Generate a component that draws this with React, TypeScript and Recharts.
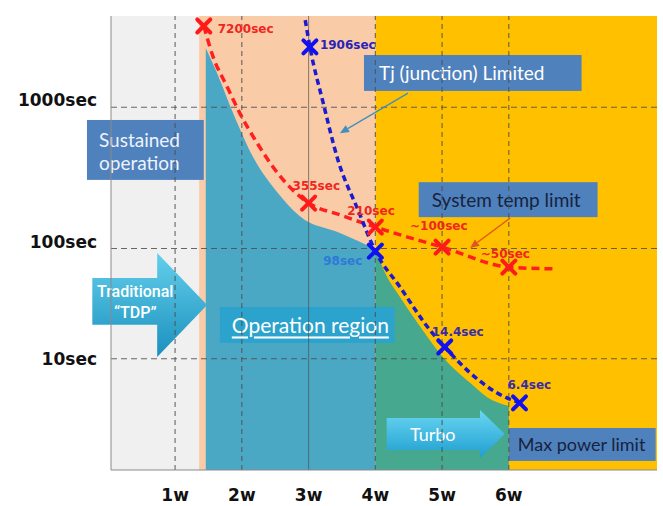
import {
  ComposedChart,
  Area,
  Line,
  Scatter,
  XAxis,
  YAxis,
  ReferenceArea,
  ReferenceLine,
} from "recharts";

// x = package power (w). y = schematic height of the time limit: the original
// diagram is not drawn to a true log scale, so levels run 0 (bottom) .. 100 (top).
const X_TICKS = [1, 2, 3, 4, 5, 6];
const X_TICK_LABELS = ["1w", "2w", "3w", "4w", "5w", "6w"];
const Y_TICKS = [24.5, 48.8, 79.9];
const Y_TICK_LABELS = ["10sec", "100sec", "1000sec"];

// zones: sustained (gray), junction limited (peach), turbo (gold)
const ZONE_EDGES = [0.04, 1.36, 4.0, 8.22];

// operation region top edge, left part and turbo part
const TEAL_W = [1.46, 1.63, 1.87, 2.17, 2.53, 2.87, 3.47, 4.0];
const TEAL_LVL = [92.9, 87.4, 78.6, 68.9, 61.2, 55.9, 52.2, 48.7];
const TURBO_W = [4.0, 4.14, 4.37, 4.71, 5.01, 5.42, 5.67, 6.0];
const TURBO_LVL = [48.7, 43.6, 38.1, 30.8, 24.9, 19.2, 16.1, 14.1];

// system temp limit curve (red) and Tj limit curve (blue)
const RED_W = [1.43, 1.57, 1.78, 1.97, 2.23, 2.47, 2.72, 3.0, 3.47, 4.0, 5.0, 6.0, 6.66];
const RED_LVL = [97.8, 91.0, 84.4, 78.6, 72.0, 66.7, 62.3, 58.8, 56.2, 53.5, 49.1, 44.7, 44.3];
const BLUE_W = [2.95, 3.02, 3.22, 3.44, 3.74, 4.0, 4.37, 4.82, 5.04, 5.42, 5.82, 6.16];
const BLUE_LVL = [99.1, 93.2, 80.8, 68.3, 57.3, 48.2, 40.3, 30.8, 27.1, 21.4, 17.0, 14.8];

const RED_MARK_W = [1.43, 3.0, 4.0, 5.0, 6.0];
const RED_MARK_LVL = [97.8, 58.8, 53.5, 49.1, 44.7];
const RED_MARK_LABELS = ["7200sec", "355sec", "210sec", "~100sec", "~50sec"];
const BLUE_MARK_W = [3.02, 4.0, 5.04, 6.16];
const BLUE_MARK_LVL = [93.2, 48.2, 27.1, 14.8];
const BLUE_MARK_LABELS = ["1906sec", "98sec", "14.4sec", "6.4sec"];

// ---- styles ----
const ZONE_COLORS = ["#f0f0f0", "#f9cba7", "#ffc000"];
const Y_TICK_SHIFT = [0, -6, -7];
const RED_LABEL_POS = [
  { dx: 14, dy: 3, anchor: "start" },
  { dx: -16, dy: -17, anchor: "start" },
  { dx: -28, dy: -16, anchor: "start" },
  { dx: -32, dy: -21, anchor: "start" },
  { dx: -28, dy: -13, anchor: "start" },
];
const BLUE_LABEL_POS = [
  { dx: 10, dy: -2, anchor: "start", color: "#2b22b8" },
  { dx: -13, dy: 10, anchor: "end", color: "#2f78d8" },
  { dx: -13, dy: -15, anchor: "start", color: "#3a2ca8" },
  { dx: -12, dy: -18, anchor: "start", color: "#3a2ca8" },
];

const BOXES = [
  { text: ["Sustained", "operation"], x1: -0.32, x2: 1.43, y1: 63.9, y2: 77.1, fill: "#4f81bd", color: "#eef3fa", size: 19, pad: 12 },
  { text: ["Tj (junction) Limited"], x1: 3.83, x2: 7.09, y1: 83.5, y2: 91.4, fill: "#4f81bd", color: "#ffffff", size: 19, pad: 15 },
  { text: ["System temp limit"], x1: 4.65, x2: 7.33, y1: 55.7, y2: 63.4, fill: "#4f81bd", color: "#17233f", size: 19, pad: 13 },
  { text: ["Operation region"], x1: 1.67, x2: 4.29, y1: 28.0, y2: 35.9, fill: "#2ba3cd", color: "#ffffff", size: 21, pad: 12, underline: true },
  { text: ["Max power limit"], x1: 6.0, x2: 8.2, y1: 2.0, y2: 9.25, fill: "#4f81bd", color: "#17233f", size: 18, pad: 9 },
];

const FONT_BOX = "Lato, 'Open Sans', sans-serif";
const FONT_BOLD = "'DejaVu Sans', Verdana, sans-serif";

const areaRows = (() => {
  const rows = new Map<number, Record<string, number>>();
  TEAL_W.forEach((w, i) => rows.set(w, { ...(rows.get(w) ?? { w }), teal: TEAL_LVL[i] }));
  TURBO_W.forEach((w, i) => rows.set(w, { ...(rows.get(w) ?? { w }), turbo: TURBO_LVL[i] }));
  return [...rows.values()].sort((a, b) => a.w - b.w);
})();

const redLine = RED_W.map((w, i) => ({ w, lvl: RED_LVL[i] }));
const blueLine = BLUE_W.map((w, i) => ({ w, lvl: BLUE_LVL[i] }));
const redMarks = RED_MARK_W.map((w, i) => ({ w, lvl: RED_MARK_LVL[i], label: RED_MARK_LABELS[i], i }));
const blueMarks = BLUE_MARK_W.map((w, i) => ({ w, lvl: BLUE_MARK_LVL[i], label: BLUE_MARK_LABELS[i], i }));

function makeMark(color: string, pos: any[], labelColor?: string) {
  return (props: any) => {
    const { cx, cy, payload } = props;
    const p = pos[payload.i];
    const s = 6.5;
    return (
      <g>
        <line x1={cx - s} y1={cy - s} x2={cx + s} y2={cy + s} stroke={color} strokeWidth={4} strokeLinecap="round" />
        <line x1={cx - s} y1={cy + s} x2={cx + s} y2={cy - s} stroke={color} strokeWidth={4} strokeLinecap="round" />
        <text
          x={cx + p.dx}
          y={cy + p.dy}
          textAnchor={p.anchor}
          dominantBaseline="central"
          fontFamily={FONT_BOLD}
          fontWeight="bold"
          fontSize={12}
          fill={p.color ?? labelColor}
        >
          {payload.label}
        </text>
      </g>
    );
  };
}

function boxShape(b: (typeof BOXES)[number]) {
  return (props: any) => {
    const { x, y, width, height } = props;
    const n = b.text.length;
    return (
      <g>
        <rect x={x} y={y} width={width} height={height} fill={b.fill} />
        {b.text.map((t, i) => (
          <text
            key={t}
            x={x + b.pad}
            y={n === 1 ? y + height / 2 : y + 20 + i * 23}
            dominantBaseline="central"
            fontFamily={FONT_BOX}
            fontSize={b.size}
            fill={b.color}
            textDecoration={b.underline ? "underline" : undefined}
          >
            {t}
          </text>
        ))}
      </g>
    );
  };
}

// block arrow drawn inside its reference box
function blockArrow(shaftTop: number, shaftBot: number, headAt: number, grad: string, lines: string[], textX: number, textY: number[], font: any) {
  return (props: any) => {
    const { x, y, width: w, height: h } = props;
    const hx = x + w * headAt;
    const pts = [
      [x, y + h * shaftTop],
      [hx, y + h * shaftTop],
      [hx, y],
      [x + w, y + h * 0.5],
      [hx, y + h],
      [hx, y + h * shaftBot],
      [x, y + h * shaftBot],
    ]
      .map((p) => p.join(","))
      .join(" ");
    return (
      <g>
        <polygon points={pts} fill={`url(#${grad})`} />
        {lines.map((t, i) => (
          <text
            key={t}
            x={x + w * textX}
            y={y + h * textY[i]}
            textAnchor="middle"
            dominantBaseline="central"
            fill="#ffffff"
            {...font}
          >
            {t}
          </text>
        ))}
      </g>
    );
  };
}

function callout(color: string) {
  return (props: any) => {
    const { x1, y1, x2, y2 } = props;
    const a = Math.atan2(y2 - y1, x2 - x1);
    const L = 9;
    const W = 4;
    const bx = x2 - L * Math.cos(a);
    const by = y2 - L * Math.sin(a);
    const nx = -Math.sin(a) * W;
    const ny = Math.cos(a) * W;
    return (
      <g>
        <line x1={x1} y1={y1} x2={bx} y2={by} stroke={color} strokeWidth={1.3} />
        <polygon points={`${x2},${y2} ${bx + nx},${by + ny} ${bx - nx},${by - ny}`} fill={color} />
      </g>
    );
  };
}

function YTick(props: any) {
  const { x, y, payload, index } = props;
  return (
    <text
      x={x}
      y={y + (Y_TICK_SHIFT[index] ?? 0)}
      textAnchor="end"
      dominantBaseline="central"
      fontFamily={FONT_BOLD}
      fontWeight="bold"
      fontSize={17}
      fill="#111"
    >
      {Y_TICK_LABELS[Y_TICKS.indexOf(payload.value)]}
    </text>
  );
}

export default function App() {
  return (
    <div style={{ position: "absolute", left: 0, top: 0, background: "#fff" }}>
      <ComposedChart
        width={663}
        height={506}
        data={areaRows}
        margin={{ top: 16, right: 6, bottom: 0, left: 0 }}
      >
        <defs>
          <linearGradient id="tdpGrad" x1="0" y1="0" x2="0" y2="1">
            <stop offset="0%" stopColor="#63cfec" />
            <stop offset="100%" stopColor="#1b90bd" />
          </linearGradient>
          <linearGradient id="turboGrad" x1="0" y1="0" x2="0" y2="1">
            <stop offset="0%" stopColor="#6ad6f2" />
            <stop offset="100%" stopColor="#1f9fd0" />
          </linearGradient>
        </defs>
        <XAxis
          dataKey="w"
          type="number"
          domain={[ZONE_EDGES[0], ZONE_EDGES[3]]}
          allowDataOverflow
          ticks={X_TICKS}
          tickFormatter={(v) => X_TICK_LABELS[X_TICKS.indexOf(v)]}
          tickLine={false}
          tickMargin={13}
          height={36}
          axisLine={{ stroke: "#8a8a8a" }}
          tick={{ fontFamily: FONT_BOLD, fontWeight: "bold", fontSize: 17, fill: "#111" }}
        />
        <YAxis
          type="number"
          domain={[0, 100]}
          allowDataOverflow
          ticks={Y_TICKS}
          width={111}
          tickLine={false}
          tickMargin={8}
          axisLine={{ stroke: "#8a8a8a" }}
          tick={<YTick />}
        />
        {ZONE_COLORS.map((c, i) => (
          <ReferenceArea
            key={c}
            x1={ZONE_EDGES[i]}
            x2={ZONE_EDGES[i + 1]}
            y1={0}
            y2={100}
            fill={c}
            fillOpacity={1}
            stroke="none"
            zIndex={-200}
          />
        ))}
        <Area
          dataKey="teal"
          type="monotone"
          connectNulls
          fill="#4ba8c4"
          fillOpacity={1}
          stroke="none"
          isAnimationActive={false}
        />
        <Area
          dataKey="turbo"
          type="monotone"
          connectNulls
          fill="#46a88e"
          fillOpacity={1}
          stroke="none"
          isAnimationActive={false}
        />
        {X_TICKS.map((t) => (
          <ReferenceLine
            key={`x${t}`}
            x={t}
            stroke="#4d4d4d"
            strokeOpacity={t === 3 ? 0.6 : 0.85}
            strokeDasharray={t === 3 ? undefined : "5 4"}
            strokeWidth={1.1}
          />
        ))}
        {Y_TICKS.map((t) => (
          <ReferenceLine key={`y${t}`} y={t} stroke="#4d4d4d" strokeOpacity={0.85} strokeDasharray="6 4" strokeWidth={1.1} />
        ))}
        <ReferenceArea
          x1={-0.24}
          x2={1.48}
          y1={24.9}
          y2={47.8}
          ifOverflow="visible"
          shape={blockArrow(0.24, 0.69, 0.565, "tdpGrad", ["Traditional", "\u201cTDP\u201d"], 0.374, [0.375, 0.577], {
            fontFamily: "Roboto, sans-serif",
            fontWeight: 500,
            fontSize: 16,
          })}
        />
        <ReferenceArea
          x1={4.17}
          x2={5.94}
          y1={2.64}
          y2={13.2}
          ifOverflow="visible"
          shape={blockArrow(0.167, 0.833, 0.79, "turboGrad", ["Turbo"], 0.39, [0.5], {
            fontFamily: FONT_BOX,
            fontSize: 18,
          })}
        />
        {BOXES.map((b) => (
          <ReferenceArea
            key={b.text[0]}
            x1={b.x1}
            x2={b.x2}
            y1={b.y1}
            y2={b.y2}
            ifOverflow="visible"
            shape={boxShape(b)}
          />
        ))}
        <ReferenceLine
          segment={[
            { x: 4.49, y: 83.0 },
            { x: 3.47, y: 74.2 },
          ]}
          ifOverflow="visible"
          shape={callout("#3f8fbf")}
        />
        <ReferenceLine
          segment={[
            { x: 6.02, y: 55.5 },
            { x: 5.42, y: 48.9 },
          ]}
          ifOverflow="visible"
          shape={callout("#e0561e")}
        />
        <Line
          data={redLine}
          dataKey="lvl"
          type="monotone"
          stroke="#ff1f1f"
          strokeWidth={3.5}
          strokeDasharray="8 5"
          dot={false}
          isAnimationActive={false}
        />
        <Line
          data={blueLine}
          dataKey="lvl"
          type="monotone"
          stroke="#1b1bd0"
          strokeWidth={3.5}
          strokeDasharray="6 4"
          dot={false}
          isAnimationActive={false}
        />
        <Scatter
          data={redMarks}
          dataKey="lvl"
          shape={makeMark("#ff1a1a", RED_LABEL_POS, "#f0261e")}
          isAnimationActive={false}
        />
        <Scatter
          data={blueMarks}
          dataKey="lvl"
          shape={makeMark("#1010f0", BLUE_LABEL_POS)}
          isAnimationActive={false}
        />
      </ComposedChart>
    </div>
  );
}
